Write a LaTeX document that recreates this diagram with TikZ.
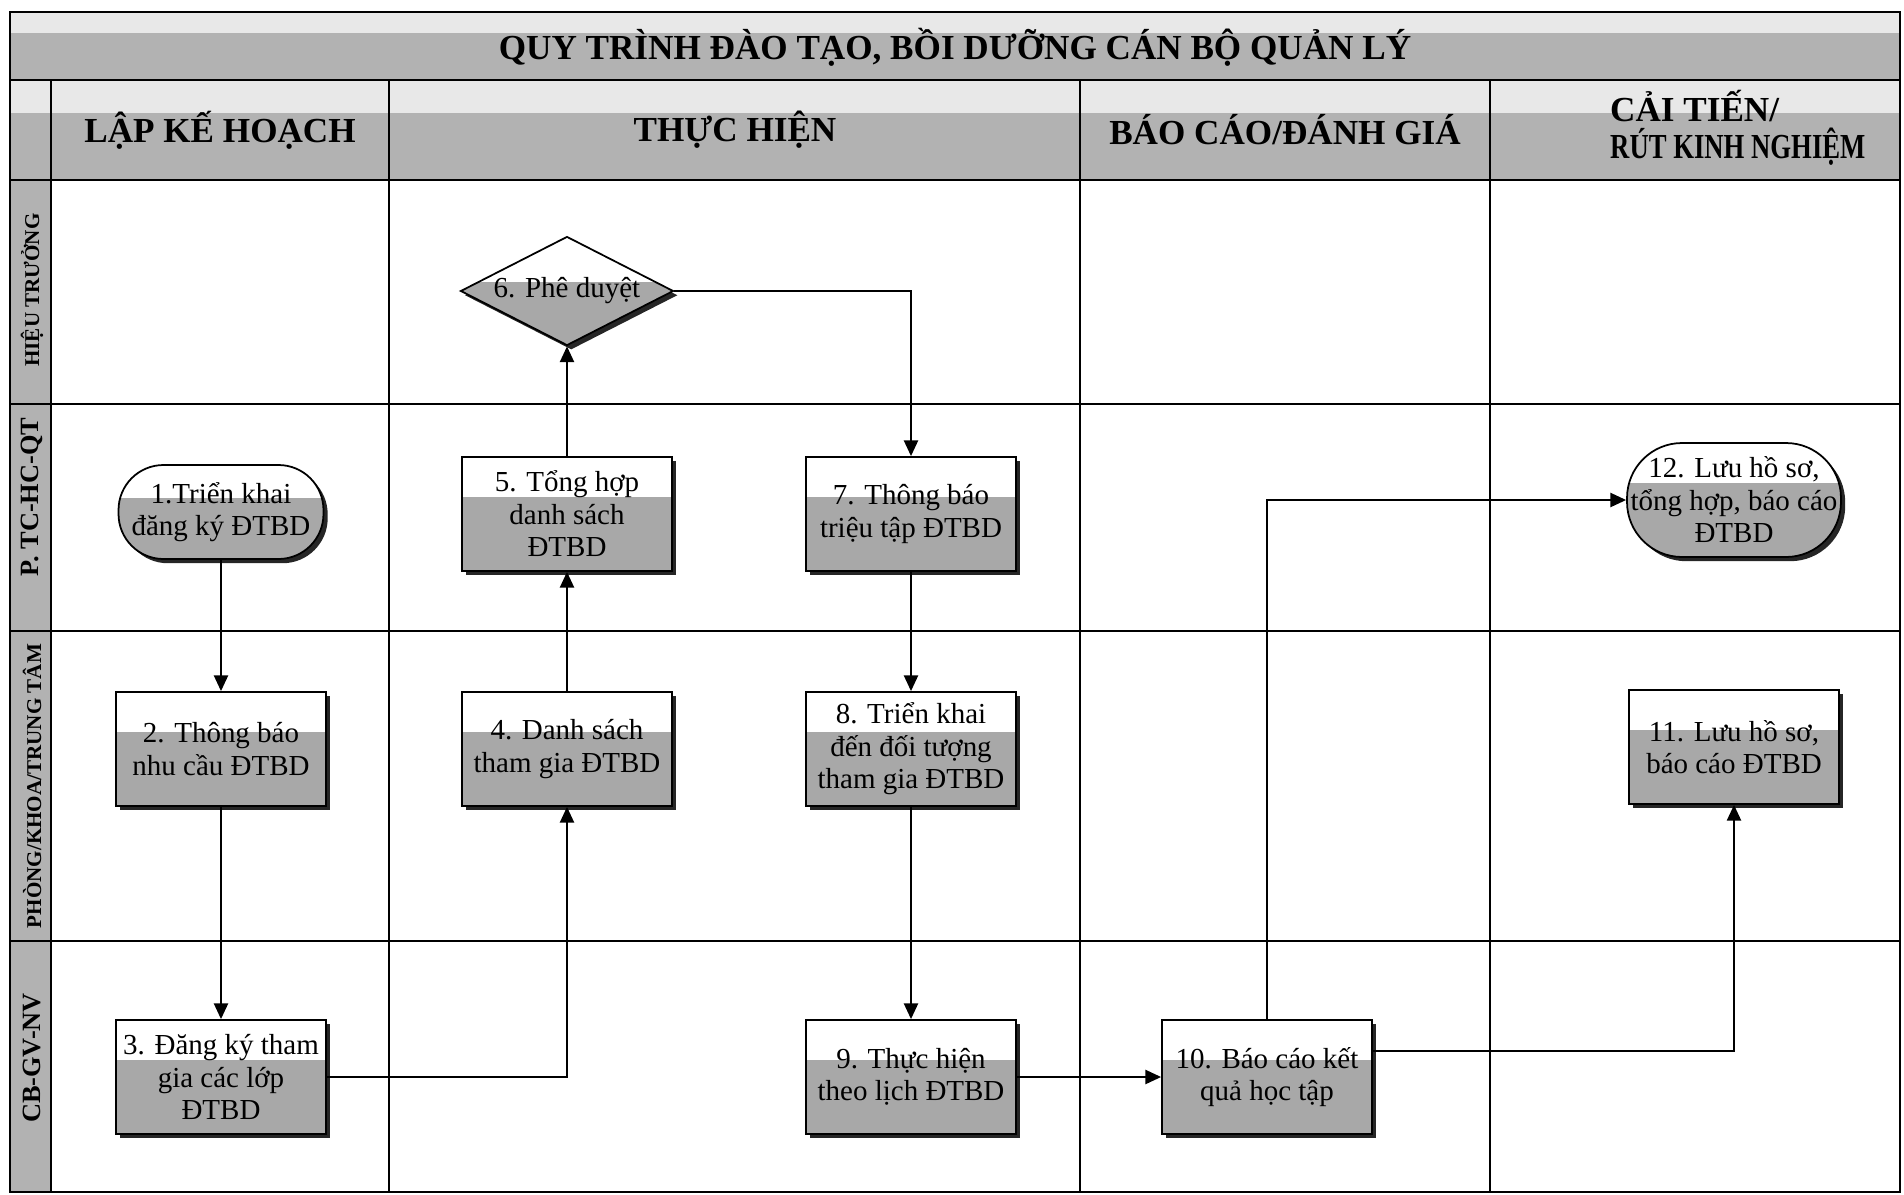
\documentclass[tikz,border=0pt]{standalone}
\usepackage{fontspec}
\setmainfont{Liberation Serif}
\usetikzlibrary{shapes.geometric,shadows,calc,arrows.meta}

\definecolor{boxgray}{gray}{0.66}
\definecolor{bandgray}{gray}{0.70}
\definecolor{palegray}{gray}{0.91}

\tikzset{
  twotone/.style={fill=boxgray,
    path picture={\fill[white, sharp corners] (path picture bounding box.north west) rectangle
      ($(path picture bounding box.north east)!#1!(path picture bounding box.south east)$);}},
  twotone/.default=0.35,
  stepnode/.style={draw, line width=1pt, twotone, align=center, inner sep=2pt,
    font=\fontsize{16.5}{18.5}\selectfont,
    drop shadow={shadow xshift=2.4pt, shadow yshift=-2.4pt, fill=black!85, opacity=1}},
  taskbox/.style={stepnode, rectangle, minimum width=4.2cm, minimum height=2.28cm},
  terminal/.style={stepnode, rectangle, rounded corners=#1, minimum width=4.1cm},
  decision/.style={stepnode, diamond, aspect=2, inner sep=0pt, twotone=0.42,
    minimum width=4.26cm, minimum height=2.18cm},
  flow/.style={line width=1.3pt, -{Triangle[length=9pt,width=8pt]}},
  laneline/.style={line width=1pt},
  lanelabel/.style={rotate=90, font=\fontsize{#1}{14}\selectfont\bfseries},
  lanelabel/.default=12,
  phaselabel/.style={align=center, font=\fontsize{20}{21}\selectfont\bfseries},
}

\begin{document}
\begin{tikzpicture}[x=0.02cm, y=-0.02cm]
  % Parameters definitions
  \def\xleft{10}    % Left border
  \def\xright{1900} % Right border
  \def\ytop{12}     % Top border
  \def\ybot{1192}   % Bottom border
  \def\ytitle{80}   % Bottom of the title band
  \def\yhead{180}   % Bottom of the header row
  \def\xstrip{51}   % Right edge of the lane label strip

  \def\xphA{389}  % Phase borders
  \def\xphB{1080}
  \def\xphC{1490}
  \def\ylnA{404}  % Lane borders
  \def\ylnB{631}
  \def\ylnC{941}

  \def\colA{221}  % Columns of the steps
  \def\colB{567}
  \def\colC{911}
  \def\colD{1267}
  \def\colE{1734}
  \def\rowA{291}  % Rows of the steps
  \def\rowB{514}
  \def\rowC{749}
  \def\rowD{1077}

  \useasboundingbox (0,0) rectangle (1904,1194);

  % Bands
  \fill[palegray] (\xleft,\ytop) rectangle (\xright,\ytitle);
  \fill[bandgray] (\xleft,33) rectangle (\xright,\ytitle);
  \fill[palegray] (\xleft,\ytitle) rectangle (\xright,\yhead);
  \fill[bandgray] (\xleft,113) rectangle (\xright,\yhead);
  \fill[bandgray] (\xleft,\yhead) rectangle (\xstrip,\ybot);

  % Grid
  \draw[laneline] (\xleft,\ytop) rectangle (\xright,\ybot);
  \foreach \y in {\ytitle,\yhead,\ylnA,\ylnB,\ylnC}
    \draw[laneline] (\xleft,\y) -- (\xright,\y);
  \foreach \x in {\xstrip,\xphA,\xphB,\xphC}
    \draw[laneline] (\x,\ytitle) -- (\x,\ybot);
  % Grid END

  % Headers
  \node[phaselabel] (title) at (955,47) {QUY TRÌNH ĐÀO TẠO, BỒI DƯỠNG CÁN BỘ QUẢN LÝ};
  \node[phaselabel] (phplan) at (220,130) {LẬP KẾ HOẠCH};
  \node[phaselabel] (phdo) at (735,130) {THỰC HIỆN};
  \node[phaselabel] (phreport) at (1285,130) {BÁO CÁO/ĐÁNH GIÁ};
  \node[phaselabel, align=left, anchor=west] (phimprove) at (1604,128)
    {CẢI TIẾN/\\{\addfontfeatures{FakeStretch=0.76}RÚT KINH NGHIỆM}};

  \node[lanelabel] (lnhead) at (32,290) {HIỆU TRƯỞNG};
  \node[lanelabel=15] (lnoffice) at (32,497) {P. TC-HC-QT};
  \node[lanelabel] (lnunit) at (32,786) {PHÒNG/KHOA/TRUNG TÂM};
  \node[lanelabel=15] (lnstaff) at (32,1058) {CB-GV-NV};

  % Steps
  \node[terminal=0.9cm, minimum height=1.88cm] (n1) at (\colA,512) {1.Triển khai\\đăng ký ĐTBD};
  \node[taskbox] (n2) at (\colA,\rowC) {2. Thông báo\\nhu cầu ĐTBD};
  \node[taskbox] (n3) at (\colA,\rowD) {3. Đăng ký tham\\gia các lớp\\ĐTBD};
  \node[taskbox] (n4) at (\colB,\rowC) {4. Danh sách\\tham gia ĐTBD};
  \node[taskbox] (n5) at (\colB,\rowB) {5. Tổng hợp\\danh sách\\ĐTBD};
  \node[decision] (n6) at (\colB,\rowA) {6. Phê duyệt};
  \node[taskbox] (n7) at (\colC,\rowB) {7. Thông báo\\triệu tập ĐTBD};
  \node[taskbox] (n8) at (\colC,\rowC) {8. Triển khai\\đến đối tượng\\tham gia ĐTBD};
  \node[taskbox] (n9) at (\colC,\rowD) {9. Thực hiện\\theo lịch ĐTBD};
  \node[taskbox] (n10) at (\colD,\rowD) {10. Báo cáo kết\\quả học tập};
  \node[taskbox] (n11) at (\colE,747) {11. Lưu hồ sơ,\\báo cáo ĐTBD};
  \node[terminal=1.1cm, minimum height=2.28cm, minimum width=4.24cm] (n12) at (\colE,500) {12. Lưu hồ sơ,\\tổng hợp, báo cáo\\ĐTBD};

  % Flow
  \draw[flow] (n1) -- (n2);
  \draw[flow] (n2) -- (n3);
  \draw[flow] (n3.east) -| (n4.south);
  \draw[flow] (n4) -- (n5);
  \draw[flow] (n5) -- (n6);
  \draw[flow] (n6.east) -| (n7.north);
  \draw[flow] (n7) -- (n8);
  \draw[flow] (n8) -- (n9);
  \draw[flow] (n9) -- (n10);
  \draw[flow] (n10.north) |- (n12.west);
  \draw[flow] ([yshift=15pt]n10.east) -| (n11.south);
\end{tikzpicture}
\end{document}
